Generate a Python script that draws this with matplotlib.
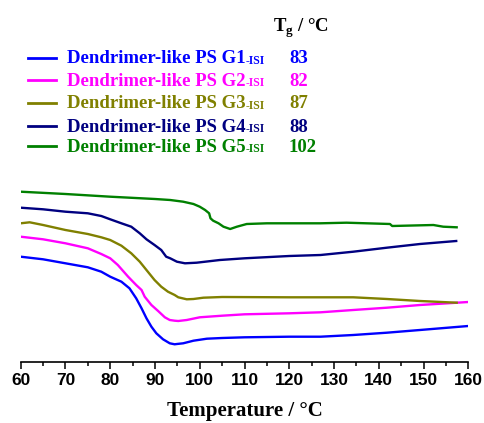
import numpy as np
import matplotlib
matplotlib.use("Agg")
import matplotlib.pyplot as plt
from matplotlib.lines import Line2D
from matplotlib.ticker import MultipleLocator

plt.rcParams["mathtext.fontset"] = "custom"
plt.rcParams["mathtext.rm"] = "Liberation Serif:bold"
plt.rcParams["mathtext.bf"] = "Liberation Serif:bold"

# DSC traces (heat flow, arbitrary units, curves offset vertically)
g1_t = [60, 65, 70, 75, 78, 80, 82.5, 84.3, 85.8, 87, 88.1, 89.2, 90.3, 91.8, 93.3, 94.4,
        94.9, 96.3, 98.6, 101.6, 105, 110, 120, 127, 134.3, 141.8, 149.2, 160]
g1_y = [105.3, 102.7, 98.7, 94.7, 90.3, 85.3, 80.3, 73.7, 63.7, 53.7, 43.7, 35.3, 28.7, 22.7, 18.7, 17.7,
        18, 18.7, 21.3, 23.3, 24, 24.7, 25.3, 25.3, 27, 29.3, 32, 36]

g2_t = [60, 65, 70, 75, 78, 80, 81.7, 84, 85.8, 87, 87.7, 89.2, 90.7, 92.2, 93.3, 94.4,
        95.2, 97.1, 100, 105, 110, 120, 127, 134.3, 141.8, 149.2, 160]
g2_y = [125.3, 122.7, 118.7, 113.7, 108, 103.7, 97, 85.3, 77, 72, 65.3, 57, 51, 44.7, 42, 41.3,
        41, 42, 44.7, 46.3, 47.7, 48.7, 49.7, 52, 54.3, 57, 60]

g3_t = [60, 62, 65, 70, 75, 78, 80, 82.5, 84.7, 86.6, 88.4, 89.9, 91.4, 92.9, 94.4,
        95.2, 97.1, 98.6, 100.8, 105, 120, 129, 134.3, 141.8, 149.2, 157.4]
g3_y = [138.7, 139.7, 137, 132, 128, 124.7, 122, 116.3, 108.7, 100.3, 90.3, 82, 75.3, 70.3, 67,
        64.7, 62.7, 63, 64.3, 65, 64.7, 64.7, 64.7, 63, 61, 59.3]

g4_t = [60, 65, 70, 75, 78, 80, 82.5, 84.7, 86.6, 88.1, 89.9, 91.4, 92.5, 93.4, 94.9,
        96.7, 99.3, 104.5, 110, 120, 127, 134.3, 141.8, 149.2, 157.3]
g4_y = [154.3, 152.7, 150.3, 148.7, 146, 142.7, 138.7, 135.3, 128.7, 122.7, 117, 112, 105.3, 103.7, 100.3,
        98.7, 99.3, 102, 103.7, 106, 107, 110.3, 114.3, 118, 121]

g5_t = [60, 70, 80, 90, 93.4, 96.3, 98.6, 100, 101.2, 102.1, 102.4, 103, 104.2, 105.3, 106.8,
        108.3, 110.5, 115, 120, 126.9, 132.8, 142.5, 143, 152.2, 154.4, 157.4]
g5_y = [170.3, 168, 165.3, 163, 162, 160.3, 158, 155.3, 152, 148.7, 143.7, 141.3, 138.7, 135.3, 133,
        135.3, 138, 138.7, 138.7, 138.7, 139.3, 138, 136, 137, 135.3, 134.7]

labels = ["Dendrimer-like PS G1", "Dendrimer-like PS G2", "Dendrimer-like PS G3",
          "Dendrimer-like PS G4", "Dendrimer-like PS G5"]
tg_values = ["83", "82", "87", "88", "102"]
colors = ["#0000ff", "#ff00ff", "#808000", "#000080", "#008000"]

series = [(g1_t, g1_y), (g2_t, g2_y), (g3_t, g3_y), (g4_t, g4_y), (g5_t, g5_y)]

W, H = 484, 423
fig = plt.figure(figsize=(W / 100, H / 100), dpi=100)
ax = fig.add_axes([20.7 / W, 61 / H, 447.6 / W, 187 / H])

for (t, y), c in zip(series, colors):
    ax.plot(t, y, color=c, lw=1.7, solid_joinstyle="round")

ax.set_xlim(60, 160)
ax.set_ylim(0, 187)
for s in ["left", "right", "top"]:
    ax.spines[s].set_visible(False)
ax.spines["bottom"].set_linewidth(1.2)
ax.set_yticks([])
ax.xaxis.set_major_locator(MultipleLocator(10))
ax.xaxis.set_minor_locator(MultipleLocator(5))
ax.tick_params(axis="x", which="major", direction="out", length=5, width=1.1, pad=3)
ax.tick_params(axis="x", which="minor", direction="out", length=3, width=1.1)
for lab in ax.get_xticklabels():
    lab.set_fontfamily("Liberation Sans")
    lab.set_fontweight("bold")
    lab.set_fontsize(12.5)
ax.set_xlabel("Temperature / °C", fontfamily="Liberation Serif", fontweight="bold",
              fontsize=15, labelpad=9)

# legend drawn by hand (colored labels + Tg column)
fig.text(273 / W, 1 - 32 / H, r"T$_\mathrm{g}$ / °C", fontfamily="Liberation Serif",
         fontweight="bold", fontsize=13.5, va="baseline", ha="left")
row_y = [57.7, 80, 103, 126, 146.5]
for lab, tg, c, yy in zip(labels, tg_values, colors, row_y):
    fy = 1 - yy / H
    fig.add_artist(Line2D([28 / W, 56 / W], [fy, fy], color=c, lw=2, transform=fig.transFigure))
    txt = fig.text(67 / W, 1 - (yy + 5.5) / H, lab, color=c, fontfamily="Liberation Serif",
                   fontweight="bold", fontsize=13.5, va="baseline", ha="left")
    fig.text(289 / W, 1 - (yy + 5.5) / H, tg, color=c, fontfamily="Liberation Serif",
             fontweight="bold", fontsize=13.5, va="baseline", ha="left")
    ax.annotate("-ISI", xy=(1, 0), xycoords=txt, xytext=(0, 0.5), textcoords="offset points",
                color=c, fontfamily="Liberation Serif", fontweight="bold", fontsize=8.5,
                va="bottom", ha="left")

fig.savefig("out.png", dpi=100)
